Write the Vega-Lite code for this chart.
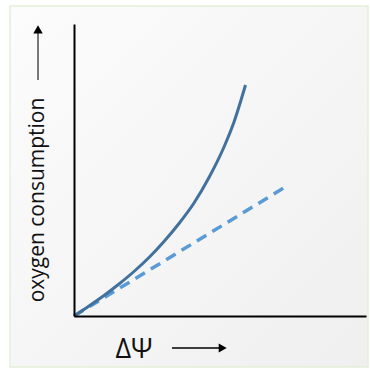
{
  "$schema": "https://vega.github.io/schema/vega-lite/v6.json",
  "autosize": "none",
  "width": 292,
  "height": 292,
  "padding": {"left": 74, "top": 24, "right": 4, "bottom": 53},
  "background": "white",
  "view": {"stroke": null},
  "datasets": {
    "frame": [{"x": -64, "x2": 294, "y": -51, "y2": 310}],
    "curve": [
      {"x": 0, "y": 0}, {"x": 15, "y": 10}, {"x": 30, "y": 20.5}, {"x": 45, "y": 32},
      {"x": 60, "y": 44.5}, {"x": 75, "y": 58.5}, {"x": 90, "y": 74.5}, {"x": 105, "y": 92.5},
      {"x": 120, "y": 113}, {"x": 135, "y": 138.5}, {"x": 150, "y": 169}, {"x": 160, "y": 194},
      {"x": 171.5, "y": 231}
    ],
    "dashed": [{"x": 0, "y": 0}, {"x": 213, "y": 130}],
    "ylabel": [{"x": -36, "y": 116, "label": "oxygen consumption"}],
    "xlabel": [{"x": 60, "y": -42, "label": "ΔΨ"}],
    "yarrow": [{"x": -36, "y": 236, "y2": 285}],
    "yhead": [{"x": -36, "y": 286.7}],
    "xarrow": [{"x": 98, "x2": 146, "y": -32}],
    "xhead": [{"x": 148.7, "y": -32}]
  },
  "encoding": {
    "x": {"field": "x", "type": "quantitative",
      "scale": {"domain": [0, 292], "nice": false, "zero": false},
      "axis": {"title": null, "labels": false, "ticks": false, "grid": false, "domain": true, "domainColor": "#000000", "domainWidth": 2, "zindex": 1}},
    "y": {"field": "y", "type": "quantitative",
      "scale": {"domain": [0, 292], "nice": false, "zero": false},
      "axis": {"title": null, "labels": false, "ticks": false, "grid": false, "domain": true, "domainColor": "#000000", "domainWidth": 2, "zindex": 1}}
  },
  "layer": [
    {
      "data": {"name": "frame"},
      "mark": {"type": "rect", "clip": false, "stroke": "#e3efd9", "strokeWidth": 1.5,
        "fill": {"gradient": "linear", "x1": 0, "y1": 0, "x2": 1, "y2": 1,
          "stops": [{"offset": 0, "color": "#fcfcfc"}, {"offset": 1, "color": "#efefef"}]}},
      "encoding": {"x2": {"field": "x2"}, "y2": {"field": "y2"}}
    },
    {
      "data": {"name": "dashed"},
      "mark": {"type": "line", "color": "#5b9bd5", "strokeWidth": 3.5, "strokeDash": [11, 7]},
      "encoding": {}
    },
    {
      "data": {"name": "curve"},
      "mark": {"type": "line", "color": "#41719c", "strokeWidth": 3, "interpolate": "monotone"},
      "encoding": {}
    },
    {
      "data": {"name": "ylabel"},
      "mark": {"type": "text", "angle": 270, "align": "center", "baseline": "middle", "font": "Open Sans", "fontSize": 21, "color": "#111111"},
      "encoding": {"text": {"field": "label"}}
    },
    {
      "data": {"name": "xlabel"},
      "mark": {"type": "text", "align": "center", "baseline": "alphabetic", "font": "Open Sans", "fontSize": 27, "color": "#111111"},
      "encoding": {"text": {"field": "label"}}
    },
    {
      "data": {"name": "yarrow"},
      "mark": {"type": "rule", "color": "#333333", "strokeWidth": 1.3},
      "encoding": {"y2": {"field": "y2"}}
    },
    {
      "data": {"name": "yhead"},
      "mark": {"type": "point", "shape": "triangle-up", "filled": true, "color": "#000000", "opacity": 1, "size": 90},
      "encoding": {}
    },
    {
      "data": {"name": "xarrow"},
      "mark": {"type": "rule", "color": "#000000", "strokeWidth": 1.3},
      "encoding": {"x2": {"field": "x2"}}
    },
    {
      "data": {"name": "xhead"},
      "mark": {"type": "point", "shape": "triangle-right", "filled": true, "color": "#000000", "opacity": 1, "size": 85},
      "encoding": {}
    }
  ]
}
